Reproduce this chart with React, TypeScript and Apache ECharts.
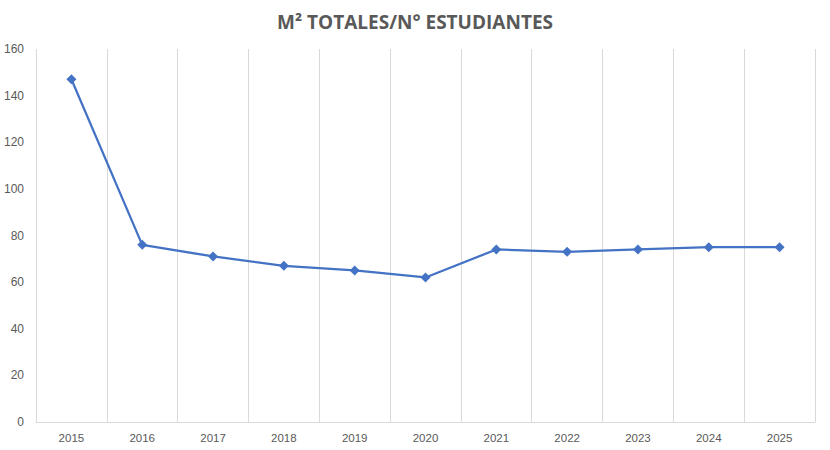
import { useEffect, useRef } from "react";
import * as echarts from "echarts";

const years = ["2015", "2016", "2017", "2018", "2019", "2020", "2021", "2022", "2023", "2024", "2025"];
const m2PerStudent = [147, 76, 71, 67, 65, 62, 74, 73, 74, 75, 75];
const yTicks = { min: 0, max: 160, interval: 20 };

const textGray = "#595959";
const gridGray = "#d9d9d9";
const lineBlue = "#4472c4";

export default function App() {
  const ref = useRef<HTMLDivElement>(null);

  useEffect(() => {
    document.body.style.margin = "0";
    const el = ref.current;
    if (!el) return;
    const chart = echarts.init(el, undefined, { renderer: "svg" });
    chart.setOption({
      animation: false,
      backgroundColor: "#ffffff",
      textStyle: { fontFamily: "Liberation Sans" },
      title: {
        text: "M² TOTALES/N° ESTUDIANTES",
        left: "center",
        top: 7,
        textStyle: { color: textGray, fontSize: 19, fontWeight: "bold", fontFamily: "Open Sans" },
      },
      grid: { left: 36, right: 15, top: 49, bottom: 28, containLabel: false },
      xAxis: {
        type: "category",
        data: years,
        boundaryGap: true,
        axisLine: { lineStyle: { color: gridGray, width: 1 } },
        axisTick: { show: false },
        axisLabel: { color: textGray, fontSize: 11.5, margin: 10, interval: 0 },
        splitLine: { show: true, lineStyle: { color: gridGray, width: 1 } },
      },
      yAxis: {
        type: "value",
        min: yTicks.min,
        max: yTicks.max,
        interval: yTicks.interval,
        axisLine: { show: false },
        axisTick: { show: false },
        splitLine: { show: false },
        axisLabel: { color: textGray, fontSize: 12, margin: 12 },
      },
      series: [
        {
          type: "line",
          data: m2PerStudent,
          symbol: "diamond",
          symbolSize: 10,
          lineStyle: { color: lineBlue, width: 2.25 },
          itemStyle: { color: lineBlue },
        },
      ],
    });
    return () => chart.dispose();
  }, []);

  return <div ref={ref} style={{ width: 830, height: 450 }} />;
}
